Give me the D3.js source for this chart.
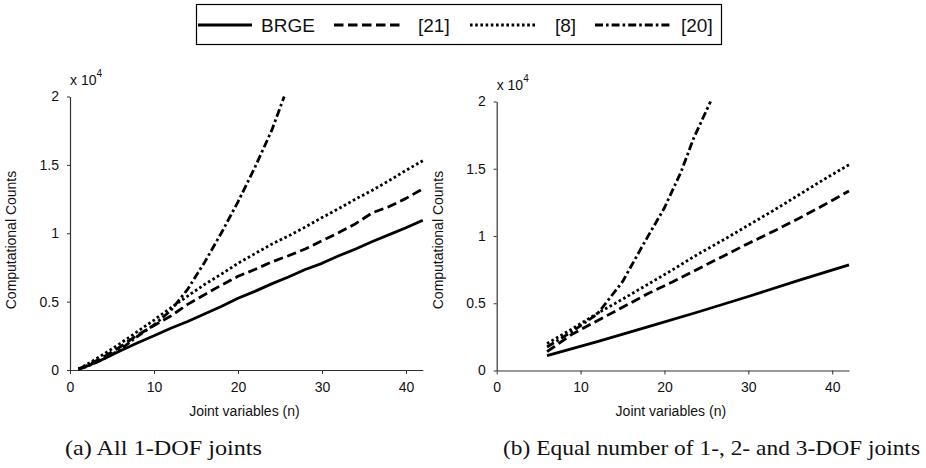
<!DOCTYPE html>
<html>
<head>
<meta charset="utf-8">
<script src="https://cdn.jsdelivr.net/npm/d3@7"></script>
<style>
  html, body { margin: 0; padding: 0; background: #fff; }
  svg { display: block; }
  text { font-family: "Liberation Sans", Arial, sans-serif; fill: #111; }
  .cap { font-family: "Liberation Serif", "Times New Roman", serif; }
</style>
</head>
<body>
<svg id="chart" width="926" height="468"></svg>
<script>
// ---------- DATA ----------
const seriesNames = ["BRGE", "[21]", "[8]", "[20]"];
const yTicks = [0, 5000, 10000, 15000, 20000];
const xTicks = [0, 10, 20, 30, 40];
const xLabel = "Joint variables (n)";
const yLabel = "Computational Counts";
const captions = ["(a) All 1-DOF joints", "(b) Equal number of 1-, 2- and 3-DOF joints"];

// (a) All 1-DOF joints
const aN = [1, 2, 4, 6, 8, 10, 12, 14, 16, 18, 20, 22, 24, 26, 28, 30, 32, 34, 36, 38, 40, 42];
const aBRGE = [60, 280, 800, 1400, 1980, 2500, 3050, 3550, 4100, 4650, 5250, 5750, 6300, 6800, 7350, 7800, 8350, 8850, 9400, 9900, 10400, 10950];
const a21 = [70, 330, 950, 1700, 2550, 3250, 3950, 4800, 5500, 6200, 6850, 7350, 7900, 8350, 8850, 9450, 10050, 10700, 11500, 11950, 12550, 13250];
const a8 = [80, 400, 1150, 1950, 2800, 3650, 4550, 5400, 6250, 7000, 7800, 8500, 9200, 9800, 10450, 11150, 11800, 12500, 13150, 13850, 14600, 15300];
const a20N = [1, 2, 4, 6, 8, 10, 12, 14, 16, 18, 20, 22, 24, 25.5];
const a20 = [60, 250, 800, 1500, 2450, 3300, 4350, 5900, 7850, 10000, 12300, 14800, 17500, 20000];

// (b) Equal number of 1-, 2- and 3-DOF joints
const bBRGEN = [6, 12, 18, 24, 30, 36, 42];
const bBRGE = [1100, 2150, 3250, 4350, 5500, 6700, 7850];
const bN = [6, 9, 12, 15, 18, 21, 24, 27, 30, 33, 36, 39, 42];
const b21 = [1400, 2700, 3700, 4700, 5700, 6600, 7550, 8500, 9450, 10350, 11300, 12300, 13350];
const b8 = [2000, 3100, 4250, 5300, 6400, 7500, 8650, 9700, 10800, 11900, 13050, 14200, 15300];
const b20N = [6, 9, 12, 15, 17.5, 20, 22, 23.5, 25.5];
const b20 = [1750, 2900, 4200, 6600, 9400, 12100, 14800, 17300, 20000];

// ---------- STYLES ----------
const dashes = { "BRGE": null, "[21]": "9.5,4.5", "[8]": "2.6,2.6", "[20]": "8,3,2.6,3" };

const svg = d3.select("#chart");
const zip = (xs, ys) => xs.map((x, i) => ({ n: x, v: ys[i] }));

function panel(opts) {
  const x = d3.scaleLinear().domain([0, 42]).range([opts.left, opts.right]);
  const y = d3.scaleLinear().domain([0, 20000]).range([opts.bottom, opts.top]);
  const g = svg.append("g");

  const ax = g.append("g").attr("transform", `translate(0,${opts.bottom})`)
    .call(d3.axisBottom(x).tickValues(xTicks).tickSize(4).tickSizeOuter(0).tickPadding(8).tickFormat(d3.format("d")));
  const ay = g.append("g").attr("transform", `translate(${opts.left},0)`)
    .call(d3.axisLeft(y).tickValues(yTicks).tickSize(3).tickSizeOuter(0).tickPadding(8).tickFormat(d => String(d / 10000)));
  [ax, ay].forEach(a => {
    a.select(".domain").attr("stroke", "#333").attr("stroke-width", 1.2);
    a.selectAll(".tick line").attr("stroke", "#333");
    a.selectAll("text").style("font-size", "14px").style("fill", "#111")
      .style("font-family", '"Liberation Sans", Arial, sans-serif');
  });

  // multiplier label
  const m = g.append("text").attr("x", opts.left).attr("y", opts.top - 12).style("font-size", "14px");
  m.append("tspan").text("x 10");
  m.append("tspan").attr("dy", -8).style("font-size", "10px").text("4");

  // axis titles
  g.append("text").attr("x", (opts.left + opts.right) / 2 - 2).attr("y", 416)
    .attr("text-anchor", "middle").style("font-size", "14px").text(xLabel);
  g.append("text").attr("transform", `translate(${opts.ylabX},${240}) rotate(-90)`)
    .attr("text-anchor", "middle").style("font-size", "14px").text(yLabel);

  // caption
  g.append("text").attr("class", "cap").attr("x", opts.capX).attr("y", 455)
    .attr("textLength", opts.capW).attr("lengthAdjust", "spacingAndGlyphs")
    .style("font-size", "22px").text(opts.caption);

  const line = d3.line().x(d => x(d.n)).y(d => y(d.v));
  opts.series.forEach(s => {
    g.append("path").datum(s.data).attr("d", line)
      .attr("fill", "none").attr("stroke", "#000").attr("stroke-width", 2.8)
      .attr("stroke-linejoin", "round")
      .attr("stroke-dasharray", dashes[s.name]);
  });
}

panel({
  left: 70, right: 422.8, top: 96.5, bottom: 370, ylabX: 16,
  capX: 65, capW: 197, caption: captions[0],
  series: [
    { name: "BRGE", data: zip(aN, aBRGE) },
    { name: "[21]", data: zip(aN, a21) },
    { name: "[8]", data: zip(aN, a8) },
    { name: "[20]", data: zip(a20N, a20) }
  ]
});

panel({
  left: 496.7, right: 849, top: 101.5, bottom: 370.5, ylabX: 443,
  capX: 503, capW: 417, caption: captions[1],
  series: [
    { name: "BRGE", data: zip(bBRGEN, bBRGE) },
    { name: "[21]", data: zip(bN, b21) },
    { name: "[8]", data: zip(bN, b8) },
    { name: "[20]", data: zip(b20N, b20) }
  ]
});

// ---------- LEGEND ----------
const lg = svg.append("g");
lg.append("rect").attr("x", 196.5).attr("y", 4.5).attr("width", 525).attr("height", 40)
  .attr("fill", "#fff").attr("stroke", "#000").attr("stroke-width", 1.2);
const legendItems = [
  { name: seriesNames[0], x1: 198, x2: 252, tx: 261 },
  { name: seriesNames[1], x1: 334, x2: 403, tx: 418 },
  { name: seriesNames[2], x1: 470, x2: 536, tx: 555 },
  { name: seriesNames[3], x1: 595, x2: 670, tx: 681 }
];
legendItems.forEach(it => {
  lg.append("line").attr("x1", it.x1).attr("x2", it.x2).attr("y1", 25).attr("y2", 25)
    .attr("stroke", "#000").attr("stroke-width", 3).attr("stroke-dasharray", dashes[it.name]);
  lg.append("text").attr("x", it.tx).attr("y", 31.5).style("font-size", "19px").text(it.name);
});
</script>
</body>
</html>
